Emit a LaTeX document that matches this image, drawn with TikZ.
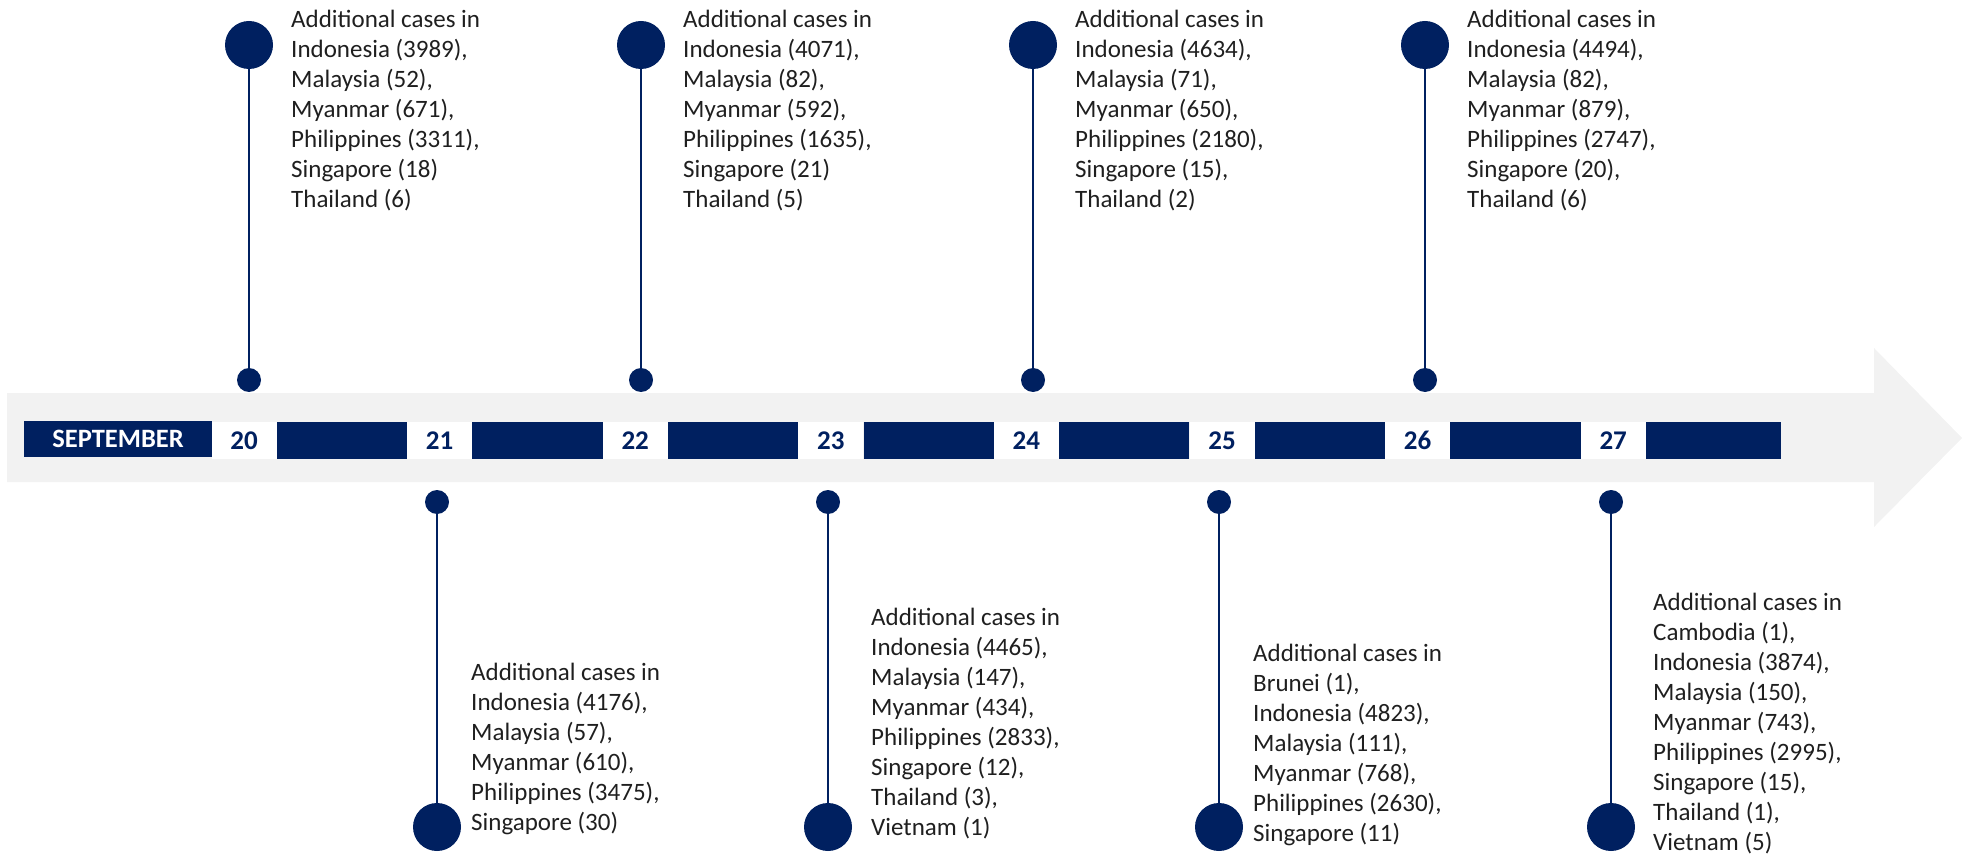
\documentclass[tikz,border=0pt]{standalone}
\usepackage{fontspec}
\setmainfont{Carlito}
\definecolor{navy}{HTML}{002060}
\definecolor{band}{HTML}{F2F2F2}
\begin{document}
\begin{tikzpicture}[x=1pt,y=-1pt,
  info/.style={anchor=base west, inner sep=0pt, align=left, font=\fontsize{25}{30}\selectfont, text=black!88},
  daybox/.style={fill=white, minimum width=65pt, minimum height=37pt, inner sep=0pt, text=navy, font=\bfseries\fontsize{27}{30}\selectfont},
  monthbox/.style={fill=navy, minimum width=188pt, minimum height=36pt, inner sep=0pt, text=white, font=\bfseries\fontsize{26.5}{30}\selectfont},
  dotsmall/.style={circle, fill=navy, minimum size=24pt, inner sep=0pt},
  dotbig/.style={circle, fill=navy, minimum size=48pt, inner sep=0pt},
  stem/.style={draw=navy, line width=2.6pt}
]
\useasboundingbox (0,0) rectangle (1962,858);
\fill[band] (7,393) -- (1874,393) -- (1874,348) -- (1962,438) -- (1874,527) -- (1874,482) -- (7,482) -- cycle;
\node[monthbox] (month) at (118,439) {SEPTEMBER};
\foreach \d in {20,...,27} {
  \node[daybox] (d\d) at ({244+195.6*(\d-20)},440.5) {\d};
}
\foreach \a/\b in {20/21,21/22,22/23,23/24,24/25,25/26,26/27} {
  \fill[navy] (d\a.north east) rectangle (d\b.south west);
}
\coordinate (barend) at (1781,459);
\fill[navy] (d27.north east) rectangle (barend);
\foreach \d/\x in {20/249,22/641,24/1033,26/1425} {
  \node[dotsmall] (s\d) at (\x,380) {};
  \node[dotbig] (b\d) at (\x,45) {};
  \draw[stem] (b\d) -- (s\d);
}
\foreach \d/\x in {21/437,23/828,25/1219,27/1611} {
  \node[dotsmall] (s\d) at (\x,502) {};
  \node[dotbig] (b\d) at (\x,827) {};
  \draw[stem] (s\d) -- (b\d);
}
\node[info] (t20) at (291,208) {Additional cases in\\Indonesia (3989),\\Malaysia (52),\\Myanmar (671),\\Philippines (3311),\\Singapore (18)\\Thailand (6)};
\node[info] (t22) at (683,208) {Additional cases in\\Indonesia (4071),\\Malaysia (82),\\Myanmar (592),\\Philippines (1635),\\Singapore (21)\\Thailand (5)};
\node[info] (t24) at (1075,208) {Additional cases in\\Indonesia (4634),\\Malaysia (71),\\Myanmar (650),\\Philippines (2180),\\Singapore (15),\\Thailand (2)};
\node[info] (t26) at (1467,208) {Additional cases in\\Indonesia (4494),\\Malaysia (82),\\Myanmar (879),\\Philippines (2747),\\Singapore (20),\\Thailand (6)};
\node[info] (t21) at (471,830) {Additional cases in\\Indonesia (4176),\\Malaysia (57),\\Myanmar (610),\\Philippines (3475),\\Singapore (30)};
\node[info] (t23) at (871,835) {Additional cases in\\Indonesia (4465),\\Malaysia (147),\\Myanmar (434),\\Philippines (2833),\\Singapore (12),\\Thailand (3),\\Vietnam (1)};
\node[info] (t25) at (1253,841) {Additional cases in\\Brunei (1),\\Indonesia (4823),\\Malaysia (111),\\Myanmar (768),\\Philippines (2630),\\Singapore (11)};
\node[info] (t27) at (1653,850) {Additional cases in\\Cambodia (1),\\Indonesia (3874),\\Malaysia (150),\\Myanmar (743),\\Philippines (2995),\\Singapore (15),\\Thailand (1),\\Vietnam (5)};
\end{tikzpicture}
\end{document}
